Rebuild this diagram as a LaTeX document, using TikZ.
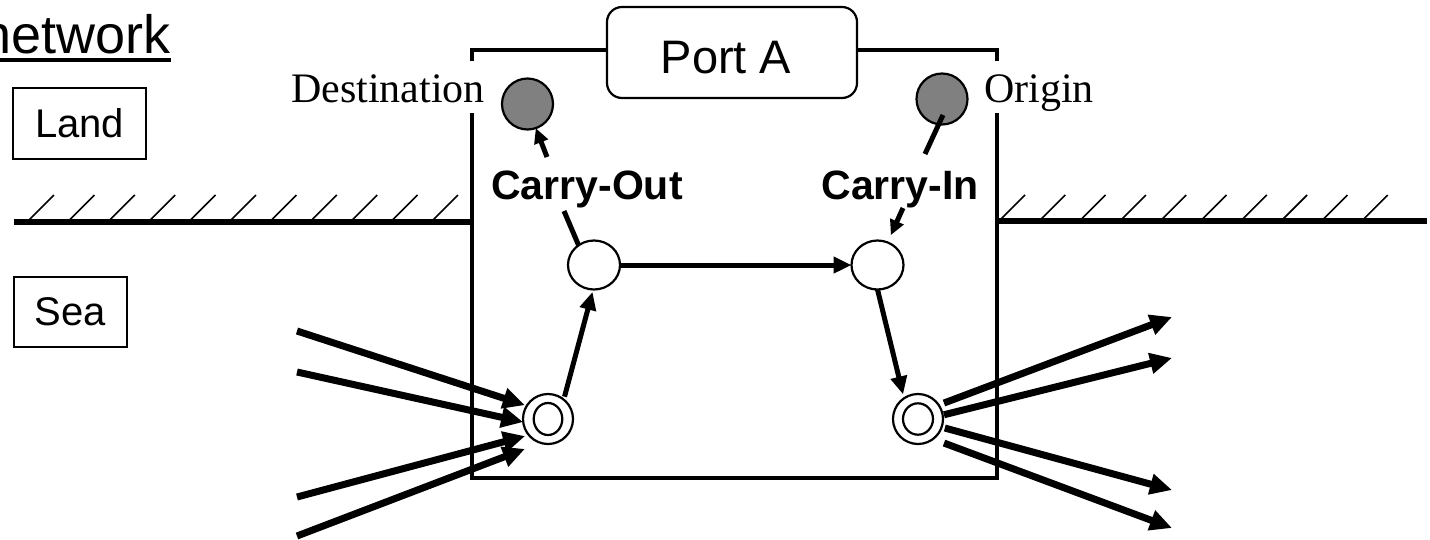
\documentclass[tikz,border=0pt]{standalone}
\usepackage{fontspec}
\setmainfont{Liberation Serif}
\setsansfont{Liberation Sans}
\usetikzlibrary{arrows.meta,shapes.geometric,calc}
\newcommand\fsz[1]{\fontsize{#1}{#1}\selectfont}
\definecolor{spotgray}{HTML}{808080}
\begin{document}
\begin{tikzpicture}[x=1pt,y=-1pt,
  wall/.style={line width=4.8pt},
  ground/.style={line width=5.2pt},
  hatch/.style={line width=1.6pt},
  hairline/.style={line width=2.2pt},
  flow/.style={line width=5pt, -{Triangle[length=18pt,width=16pt]}},
  carry/.style={line width=5pt},
  carrytip/.style={line width=5pt, -{Triangle[length=15pt,width=14pt]}},
  fan/.style={line width=7pt, -{Triangle[length=22pt,width=20pt]}},
  tag/.style={draw, line width=1.8pt, inner sep=0pt, font=\sffamily\fsz{40}},
  spot/.style={circle, draw, hairline, fill=spotgray, minimum size=51pt, inner sep=0pt, outer sep=0pt},
  hub/.style={ellipse, draw, hairline, fill=white, minimum width=52pt, minimum height=49pt, inner sep=0pt, outer sep=0pt},
  gate/.style={circle, draw, hairline, fill=white, minimum size=50pt, inner sep=0pt, outer sep=0pt},
  actlabel/.style={font=\sffamily\bfseries\fsz{41}, inner sep=0pt},
  placelabel/.style={font=\rmfamily\fsz{42}, inner sep=0pt},
]
\useasboundingbox (0,0) rectangle (1430,539);
\fill[white] (0,0) rectangle (1430,539);

% heading
\node[anchor=base east, font=\sffamily\fsz{54}, inner sep=0pt] (title) at (171,53) {network};
\draw[line width=4pt] (0,60) -- (171,60);

% region tags
\node[tag, minimum width=133pt, minimum height=71pt] (land) at (79.5,123.5) {Land};
\node[tag, minimum width=113pt, minimum height=70pt] (sea) at (70.5,312) {Sea};

% port frame
\node[draw, hairline, rounded corners=15pt, minimum width=250pt, minimum height=91pt, inner sep=0pt] (port) at (732,52.5) {};
\node[anchor=base, font=\sffamily\fsz{47}, inner sep=0pt] (portname) at (726,73) {Port A};

\coordinate (tl) at (472,50);
\coordinate (tr) at (997,50);
\coordinate (bl) at (472,478);
\coordinate (br) at (997,478);
\draw[wall] (472,61) -- (tl) -- (port.west |- tl);
\draw[wall] (port.east |- tr) -- (tr) -- (997,61);
\draw[wall] (472,113) -- (bl) -- (br) -- (997,113);

% shoreline
\draw[ground] (14,222) -- (472,222);
\draw[ground] (997,221) -- (1427,221);
\foreach \i in {0,...,10} \draw[hatch] ({29+40.4*\i},220) -- ++(25,-25);
\foreach \i in {0,...,9} \draw[hatch] ({1000+40.3*\i},220) -- ++(25,-25);

% nodes
\node[spot] (dest) at (527.5,104) {};
\node[spot] (orig) at (942,99) {};
\node[hub] (ul) at (594,265) {};
\node[hub] (ur) at (877.5,265) {};
\node[gate] (dl) at (548,419) {};
\node[gate] (dr) at (918,419) {};
\draw[hairline] (dl.center) ellipse [x radius=14.3pt, y radius=16pt];
\draw[hairline] (dr.center) ellipse [x radius=15pt, y radius=15.7pt];

% labels
\node[placelabel, anchor=base east] (destname) at (485,102) {Destination};
\node[placelabel, anchor=base west] (origname) at (984,102) {Origin};
\node[actlabel, anchor=base] (cout) at (587,199) {Carry-Out};
\node[actlabel, anchor=base] (cin) at (900,199) {Carry-In};

% carry-out / carry-in
\coordinate (coLow) at (564,211);
\coordinate (coHigh) at (547,157);
\draw[carry] (ul.128) -- (coLow);
\draw[carrytip] (coHigh) -- (dest.289);
\coordinate (ciHigh) at ($(orig.center)+(1,16)$);
\coordinate (ciMid) at (925,154);
\coordinate (ciLow) at (903,208);
\draw[carry] (ciHigh) -- (ciMid);
\draw[carrytip, shorten >=8pt] (ciLow) -- (ur.66);

% internal flows
\draw[flow] (ul) -- (ur);
\draw[flow, shorten <=3pt, shorten >=2.5pt] (dl.51) -- (ul.268);
\draw[flow, shorten >=4pt] (ur.270) -- (dr.124);

% incoming sea links
\coordinate (in1) at (297,331);
\coordinate (in2) at (297,372);
\coordinate (in3) at (297,497);
\coordinate (in4) at (297,536);
\draw[fan, shorten >=2pt] (in1) -- (dl.148);
\draw[fan] (in2) -- (dl.187);
\draw[fan, shorten >=3.9pt] (in3) -- (dl.220);
\draw[fan, shorten >=16.9pt] (in4) -- (dl.253);

% outgoing sea links
\coordinate (out1) at (1172,317);
\coordinate (out2) at (1172,358);
\coordinate (out3) at (1172,490);
\coordinate (out4) at (1172,528);
\draw[fan, shorten <=5.6pt] (dr.34) -- (out1);
\draw[fan, shorten <=1.3pt] (dr.9) -- (out2);
\draw[fan, shorten <=3.3pt] (dr.341) -- (out3);
\draw[fan, shorten <=11.7pt] (dr.307) -- (out4);
\end{tikzpicture}
\end{document}
